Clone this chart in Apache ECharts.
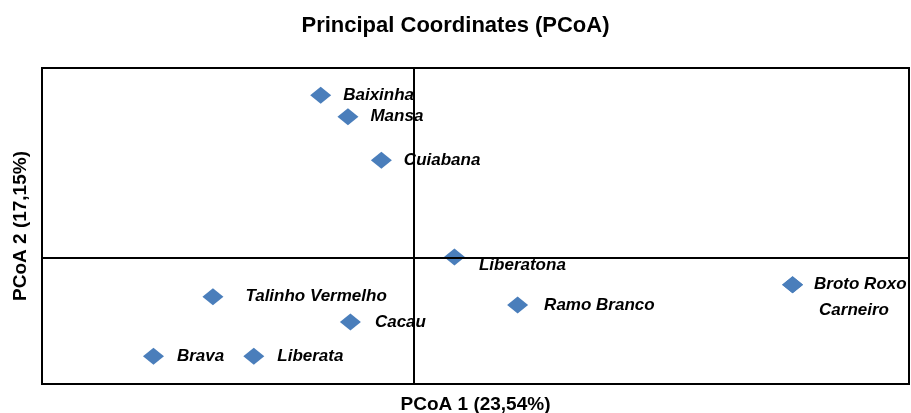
<!DOCTYPE html>
<html>
<head>
<meta charset="utf-8">
<script src="https://cdn.jsdelivr.net/npm/echarts@6/dist/echarts.min.js"></script>
<style>
  html, body { margin: 0; padding: 0; background: #fff; }
  #main { width: 911px; height: 413px; }
</style>
</head>
<body>
<div id="main"></div>
<script>
  // accesiones y coordenadas PCoA
  var names = ['Baixinha', 'Mansa', 'Cuiabana', 'Liberatona', 'Ramo Branco', 'Broto Roxo',
               'Carneiro', 'Talinho Vermelho', 'Cacau', 'Brava', 'Liberata'];
  var pcoa1 = [-0.075, -0.053, -0.026, 0.033, 0.084, 0.306, 0.306, -0.162, -0.051, -0.210, -0.129];
  var pcoa2 = [0.257, 0.223, 0.154, 0.001, -0.075, -0.043, -0.043, -0.062, -0.102, -0.156, -0.156];

  // desplazamiento de etiquetas (solo estilo)
  var labelShift = {
    'Baixinha': [0, 0, 12],
    'Mansa': [0, 0, 12],
    'Cuiabana': [0, 0, 12],
    'Liberatona': [0, 8, 14],
    'Ramo Branco': [0, 0, 16],
    'Broto Roxo': [0, 0, 11],
    'Carneiro': [5, 26, 11],
    'Talinho Vermelho': [0, 0, 22],
    'Cacau': [0, 0, 14],
    'Brava': [0, 0, 13],
    'Liberata': [0, 0, 13]
  };

  var points = names.map(function (n, i) {
    var s = labelShift[n];
    return {
      name: n,
      value: [pcoa1[i], pcoa2[i]],
      label: { offset: [s[0], s[1]], distance: s[2] }
    };
  });

  var myChart = echarts.init(document.getElementById('main'));
  myChart.setOption({
    animation: false,
    title: {
      text: 'Principal Coordinates (PCoA)',
      left: 'center',
      top: 10,
      textStyle: { fontFamily: 'Liberation Sans', fontWeight: 'bold', fontSize: 22, color: '#000' }
    },
    grid: {
      left: 42, right: 2, top: 68, bottom: 29,
      outerBoundsMode: 'none',
      containLabel: false,
      show: true,
      borderColor: '#000',
      borderWidth: 2,
      backgroundColor: '#fff'
    },
    xAxis: {
      type: 'value',
      min: -0.3,
      max: 0.4,
      name: 'PCoA 1 (23,54%)',
      nameLocation: 'middle',
      nameGap: 11,
      nameTextStyle: { fontFamily: 'Liberation Sans', fontWeight: 'bold', fontSize: 19, color: '#000' },
      axisLine: { show: false, onZero: false },
      axisTick: { show: false },
      axisLabel: { show: false },
      splitLine: { show: false }
    },
    yAxis: {
      type: 'value',
      min: -0.2,
      max: 0.3,
      name: 'PCoA 2 (17,15%)',
      nameLocation: 'middle',
      nameGap: 12,
      nameTextStyle: { fontFamily: 'Liberation Sans', fontWeight: 'bold', fontSize: 19, color: '#000' },
      axisLine: { show: false, onZero: false },
      axisTick: { show: false },
      axisLabel: { show: false },
      splitLine: { show: false }
    },
    series: [{
      type: 'scatter',
      symbol: 'diamond',
      symbolSize: [21, 17],
      itemStyle: { color: '#4a7ebb', opacity: 1 },
      label: {
        show: true,
        position: 'right',
        formatter: '{b}',
        fontFamily: 'Liberation Sans',
        fontWeight: 'bold',
        fontStyle: 'italic',
        fontSize: 17,
        color: '#000',
        opacity: 1
      },
      data: points,
      markLine: {
        silent: true,
        symbol: 'none',
        label: { show: false },
        lineStyle: { color: '#000', width: 2, type: 'solid', opacity: 1 },
        data: [{ xAxis: 0 }, { yAxis: 0 }]
      }
    }]
  });
</script>
</body>
</html>
